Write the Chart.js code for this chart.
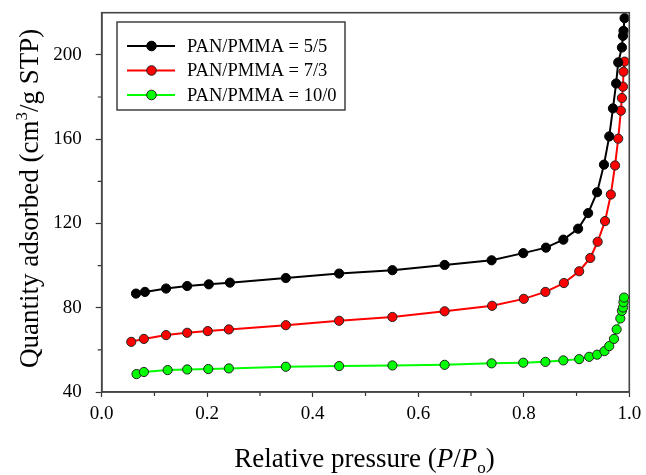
<!DOCTYPE html>
<html>
<head>
<meta charset="utf-8">
<script src="https://cdn.jsdelivr.net/npm/chart.js@4.4.0/dist/chart.umd.min.js"></script>
<style>
  html, body { margin: 0; padding: 0; background: #fff; }
</style>
</head>
<body>
<canvas id="chart" width="646" height="475"></canvas>
<script>
// PAN/PMMA = 5/5
const pressure55 = [0.065, 0.082, 0.122, 0.162, 0.203, 0.243, 0.349, 0.450, 0.551, 0.650, 0.739, 0.799, 0.842,
  0.875, 0.903, 0.922, 0.939, 0.952, 0.962, 0.969, 0.975, 0.979, 0.986, 0.988, 0.989, 0.991];
const quantity55 = [86.7, 87.5, 89.1, 90.3, 91.1, 91.9, 94.1, 96.2, 97.8, 100.3, 102.5, 105.9, 108.5,
  112.3, 117.5, 124.9, 134.8, 147.9, 161.3, 174.6, 186.4, 196.4, 203.5, 209.0, 211.4, 217.4];

// PAN/PMMA = 7/3
const pressure73 = [0.056, 0.080, 0.122, 0.162, 0.201, 0.241, 0.349, 0.450, 0.551, 0.650, 0.740, 0.800, 0.841,
  0.876, 0.905, 0.926, 0.940, 0.954, 0.965, 0.973, 0.979, 0.984, 0.986, 0.988, 0.989, 0.991];
const quantity73 = [63.8, 65.2, 67.0, 68.1, 68.9, 69.7, 71.7, 73.8, 75.6, 78.3, 80.9, 84.2, 87.5,
  91.7, 97.3, 103.6, 111.3, 121.1, 133.7, 147.5, 160.2, 173.5, 179.5, 184.9, 192.0, 196.8];

// PAN/PMMA = 10/0
const pressure100 = [0.066, 0.080, 0.125, 0.162, 0.202, 0.241, 0.349, 0.450, 0.551, 0.650, 0.739, 0.799, 0.841,
  0.875, 0.905, 0.924, 0.939, 0.953, 0.962, 0.971, 0.976, 0.983, 0.986, 0.988, 0.989, 0.990];
const quantity100 = [48.5, 49.5, 50.4, 50.7, 50.9, 51.2, 52.0, 52.3, 52.6, 52.9, 53.6, 53.9, 54.3,
  55.0, 55.6, 56.7, 57.7, 59.4, 61.8, 65.2, 69.7, 74.9, 78.5, 80.1, 82.6, 84.8];

const seriesNames = ['PAN/PMMA = 5/5', 'PAN/PMMA = 7/3', 'PAN/PMMA = 10/0'];
const xMinorTicks = [0.1, 0.3, 0.5, 0.7, 0.9];
const yMinorTicks = [60, 100, 140, 180];

const serif = "'Liberation Serif', 'Times New Roman', serif";
const axisColor = '#333';

function toPoints(xs, ys) {
  return xs.map((x, i) => ({ x: x, y: ys[i] }));
}

function makeSet(label, xs, ys, line, fill, edge) {
  return {
    label: label,
    data: toPoints(xs, ys),
    showLine: true,
    borderColor: line,
    borderWidth: 2,
    pointRadius: 4.6,
    pointBackgroundColor: fill,
    pointBorderColor: edge,
    pointBorderWidth: 1,
    tension: 0
  };
}

// minor ticks, frame, axis titles and the boxed legend
const decorations = {
  id: 'decorations',
  afterDraw(chart) {
    const ctx = chart.ctx;
    const area = chart.chartArea;
    const xs = chart.scales.x, ys = chart.scales.y;
    ctx.save();
    ctx.strokeStyle = axisColor;
    ctx.lineWidth = 1.2;
    ctx.beginPath();
    xMinorTicks.forEach(v => {
      const px = xs.getPixelForValue(v);
      ctx.moveTo(px, area.bottom);
      ctx.lineTo(px, area.bottom + 4);
    });
    yMinorTicks.forEach(v => {
      const py = ys.getPixelForValue(v);
      ctx.moveTo(area.left, py);
      ctx.lineTo(area.left - 4, py);
    });
    ctx.stroke();

    ctx.lineWidth = 1.6;
    ctx.strokeStyle = '#444';
    ctx.strokeRect(area.left, area.top, area.right - area.left, area.bottom - area.top);

    // x title
    ctx.fillStyle = '#000';
    ctx.textBaseline = 'alphabetic';
    const big = '27px ' + serif, bigIt = 'italic 27px ' + serif, small = '17px ' + serif;
    const xParts = [
      ['Relative pressure (', big, 0], ['P', bigIt, 0], ['/', big, 0], ['P', bigIt, 0],
      ['o', small, 6], [')', big, 0]
    ];
    drawParts(ctx, xParts, (area.left + area.right) / 2 - 1, 467);

    // y title
    ctx.save();
    ctx.translate(38, (area.top + area.bottom) / 2 - 4);
    ctx.rotate(-Math.PI / 2);
    const yParts = [
      ['Quantity adsorbed (cm', big, 0], ['3', small, -11], ['/g STP)', big, 0]
    ];
    drawParts(ctx, yParts, 0, 0);
    ctx.restore();

    // legend
    const lx = 117, ly = 22, lw = 228, lh = 88;
    ctx.fillStyle = '#fff';
    ctx.fillRect(lx, ly, lw, lh);
    ctx.lineWidth = 1.4;
    ctx.strokeStyle = '#333';
    ctx.strokeRect(lx, ly, lw, lh);
    const rows = [46, 70.5, 95];
    chart.data.datasets.forEach((ds, i) => {
      const y = rows[i];
      ctx.strokeStyle = ds.borderColor;
      ctx.lineWidth = 2;
      ctx.beginPath();
      ctx.moveTo(127, y);
      ctx.lineTo(175, y);
      ctx.stroke();
      ctx.beginPath();
      ctx.arc(151.5, y, 4.8, 0, Math.PI * 2);
      ctx.fillStyle = ds.pointBackgroundColor;
      ctx.fill();
      ctx.lineWidth = 1;
      ctx.strokeStyle = ds.pointBorderColor;
      ctx.stroke();
      ctx.fillStyle = '#000';
      ctx.font = '18.5px ' + serif;
      ctx.textBaseline = 'middle';
      ctx.textAlign = 'left';
      ctx.fillText(ds.label, 187, y + 1);
    });
    ctx.restore();
  }
};

function drawParts(ctx, parts, cx, baseline) {
  let total = 0;
  parts.forEach(p => { ctx.font = p[1]; total += ctx.measureText(p[0]).width; });
  let x = cx - total / 2;
  ctx.textAlign = 'left';
  parts.forEach(p => {
    ctx.font = p[1];
    ctx.fillText(p[0], x, baseline + p[2]);
    x += ctx.measureText(p[0]).width;
  });
}

new Chart(document.getElementById('chart'), {
  type: 'scatter',
  data: {
    datasets: [
      makeSet(seriesNames[0], pressure55, quantity55, '#000000', '#000000', '#000000'),
      makeSet(seriesNames[1], pressure73, quantity73, '#ff0000', '#ff0000', '#222222'),
      makeSet(seriesNames[2], pressure100, quantity100, '#00ff00', '#00ff00', '#222222')
    ]
  },
  options: {
    responsive: false,
    animation: false,
    devicePixelRatio: 1,
    layout: { padding: { left: 0, right: 16.7, top: 12.7, bottom: 0 } },
    plugins: {
      legend: { display: false },
      tooltip: { enabled: false }
    },
    scales: {
      x: {
        type: 'linear',
        min: 0,
        max: 1,
        ticks: {
          stepSize: 0.2,
          includeBounds: false,
          padding: 6,
          color: '#000',
          font: { family: serif, size: 19 },
          callback: v => v.toFixed(1)
        },
        grid: { display: true, drawOnChartArea: false, tickLength: 5, tickColor: axisColor, tickWidth: 1.2 },
        border: { display: true, color: '#444', width: 1.6 },
        afterFit(scale) {
          scale.height = 83;
          scale.paddingLeft = 0;
          scale.paddingRight = 0;
        }
      },
      y: {
        type: 'linear',
        min: 40,
        max: 220,
        ticks: {
          stepSize: 40,
          includeBounds: false,
          padding: 14,
          color: '#000',
          font: { family: serif, size: 19 }
        },
        grid: { display: true, drawOnChartArea: false, tickLength: 6, tickColor: axisColor, tickWidth: 1.2 },
        border: { display: true, color: '#444', width: 1.6 },
        afterFit(scale) {
          scale.width = 101.7;
          scale.paddingTop = 0;
          scale.paddingBottom = 0;
        }
      }
    }
  },
  plugins: [decorations]
});
</script>
</body>
</html>
